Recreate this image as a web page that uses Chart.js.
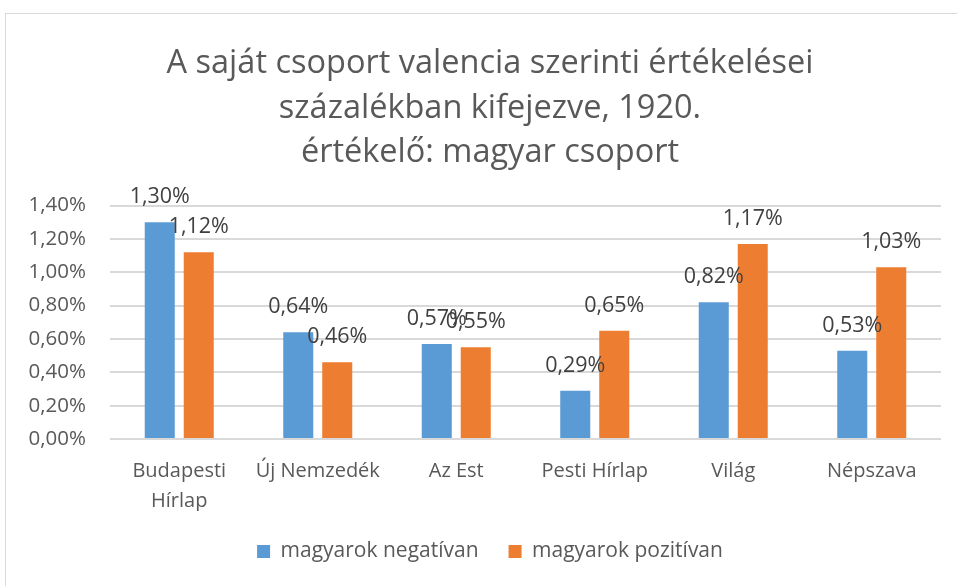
<!DOCTYPE html>
<html>
<head>
<meta charset="utf-8">
<script src="https://cdn.jsdelivr.net/npm/chart.js@4"></script>
<style>
    html, body { margin: 0; padding: 0; background: #fff; overflow: hidden; }
    .frame { position: absolute; left: 5px; top: 13px; width: 975px; height: 620px; border: 1px solid #d9d9d9; }
    .frame canvas { position: absolute; left: 0; top: 0; }
</style>
</head>
<body>
<div class="frame">
    <canvas id="chart" width="957" height="572"></canvas>
</div>
<script>
const categories = [['Budapesti', 'Hírlap'], 'Új Nemzedék', 'Az Est', 'Pesti Hírlap', 'Világ', 'Népszava'];
const negativValues = [0.0130, 0.0064, 0.0057, 0.0029, 0.0082, 0.0053];
const pozitivValues = [0.0112, 0.0046, 0.0055, 0.0065, 0.0117, 0.0103];
const seriesNames = ['magyarok negatívan', 'magyarok pozitívan'];
const yTicks = [0, 0.002, 0.004, 0.006, 0.008, 0.010, 0.012, 0.014];

const pct = v => (v * 100).toFixed(2).replace('.', ',') + '%';
const FONT = '"Open Sans", "Noto Sans", sans-serif';

// simple data labels above each bar
const barLabels = {
    id: 'barLabels',
    afterDatasetsDraw(chart) {
        const ctx = chart.ctx;
        ctx.save();
        ctx.font = '21.5px ' + FONT;
        ctx.fillStyle = '#404040';
        ctx.textAlign = 'center';
        ctx.textBaseline = 'middle';
        chart.data.datasets.forEach((ds, i) => {
            chart.getDatasetMeta(i).data.forEach((bar, j) => {
                ctx.fillText(pct(ds.data[j]), bar.x, bar.y - 25);
            });
        });
        ctx.restore();
    }
};

new Chart(document.getElementById('chart'), {
    type: 'bar',
    data: {
        labels: categories,
        datasets: [
            { label: seriesNames[0], data: negativValues, backgroundColor: '#5B9BD5' },
            { label: seriesNames[1], data: pozitivValues, backgroundColor: '#ED7D31' }
        ]
    },
    options: {
        responsive: false,
        animation: false,
        layout: { padding: { left: 11, right: 0, top: 0, bottom: 14 } },
        datasets: { bar: { categoryPercentage: 0.563, barPercentage: 0.77 } },
        plugins: {
            title: {
                display: true,
                text: ['A saját csoport valencia szerinti értékelései', 'százalékban kifejezve, 1920.', 'értékelő: magyar csoport'],
                color: '#595959',
                font: { family: FONT, size: 32.5, weight: 'normal', lineHeight: 1.36 },
                padding: { top: 28, bottom: 31 }
            },
            legend: {
                position: 'bottom',
                labels: {
                    color: '#595959',
                    font: { family: FONT, size: 21 },
                    boxWidth: 13,
                    boxHeight: 13,
                    padding: 30
                }
            },
            tooltip: { enabled: false }
        },
        scales: {
            x: {
                afterFit(axis) { axis.height = 72; },
                grid: { display: false, drawTicks: false },
                border: { display: false },
                ticks: { color: '#595959', font: { family: FONT, size: 20, lineHeight: 1.5 }, padding: 17, maxRotation: 0 }
            },
            y: {
                min: 0,
                max: 0.014,
                afterFit(axis) { axis.width = 93; },
                afterBuildTicks(axis) { axis.ticks = yTicks.map(v => ({ value: v })); },
                grid: { color: '#d9d9d9', lineWidth: 2, drawTicks: false },
                border: { display: false },
                ticks: { color: '#595959', font: { family: FONT, size: 20.5 }, padding: 24, callback: v => pct(v) }
            },
            // empty right-hand spacer so the title and legend centre like the original
            spacer: {
                type: 'linear',
                position: 'right',
                afterFit(axis) { axis.width = 22; },
                grid: { display: false, drawTicks: false },
                border: { display: false },
                ticks: { display: false }
            }
        }
    },
    plugins: [barLabels]
});
</script>
</body>
</html>
